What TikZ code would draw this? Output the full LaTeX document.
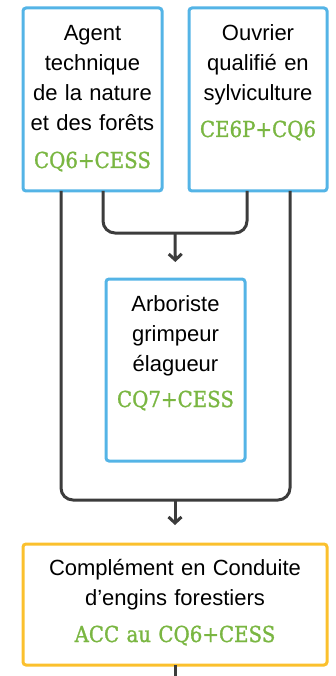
\documentclass[tikz,border=0pt]{standalone}
\usepackage{fontspec}
\setmainfont{Liberation Sans}
\newfontfamily\slabfont{DejaVu Serif}[FakeStretch=0.9, FakeBold=1.2]
\usetikzlibrary{arrows.meta,positioning,calc}
\definecolor{boxblue}{RGB}{84,180,230}
\definecolor{boxyellow}{RGB}{251,192,45}
\definecolor{certgreen}{RGB}{122,182,66}
\definecolor{linegray}{RGB}{60,60,60}
\newcommand{\cert}[1]{{\slabfont\fontsize{22}{30}\selectfont\color{certgreen}#1}}

\begin{document}
\begin{tikzpicture} [x=1pt, y=1pt,
        bluebox/.style={draw=boxblue, line width=3, rounded corners=3, inner sep=0, outer sep=0, anchor=north west},
        yellowbox/.style={bluebox, draw=boxyellow},
        txt/.style={text width=135, align=center, inner sep=0, anchor=base, font=\fontsize{22}{30}\selectfont},
        flow/.style={draw=linegray, line width=3, rounded corners=12},
        tip/.style={-{Straight Barb[length=6, width=13]}}]
        \useasboundingbox (0,0) rectangle (335,-676);
        % boxes
        \node[bluebox, minimum width=139, minimum height=183] (agent) at (23,-8) {};
        \node[bluebox, minimum width=138, minimum height=183] (ouvrier) at (189,-8) {};
        \node[bluebox, minimum width=139, minimum height=182] (arbo) at (106,-279) {};
        \node[yellowbox, minimum width=304, minimum height=121] (conduite) at (23,-544) {};
        % texts
        \node[txt] (agent-txt) at ([yshift=-33]agent.north) {Agent\\technique\\de la nature\\et des forêts\\[7pt]\cert{CQ6+CESS}};
        \node[txt] (ouvrier-txt) at ([yshift=-33]ouvrier.north) {Ouvrier\\qualifié en\\sylviculture\\[6pt]\cert{CE6P+CQ6}};
        \node[txt] (arbo-txt) at ([yshift=-32]arbo.north) {Arboriste\\grimpeur\\élagueur\\[6pt]\cert{CQ7+CESS}};
        \node[txt, text width=290] (conduite-txt) at ([yshift=-31]conduite.north) {Complément en Conduite\\d’engins forestiers\\[7pt]\cert{ACC au CQ6+CESS}};
        % connectors
        \coordinate (upjoin) at (175,-233);
        \coordinate (lowjoin) at (175,-500);
        \coordinate (exit) at (175,-676);
        \draw[flow] ([xshift=10.5]agent.south) |- (upjoin) -| ([xshift=-11]ouvrier.south);
        \draw[flow] ([xshift=-31.5]agent.south) |- (lowjoin) -| ([xshift=32]ouvrier.south);
        \draw[flow, tip, shorten >=17] (upjoin) -- (arbo.north);
        \draw[flow, tip, shorten >=19] (lowjoin) -- (conduite.north);
        \draw[flow] (conduite.south) -- (exit);
\end{tikzpicture}
\end{document}
